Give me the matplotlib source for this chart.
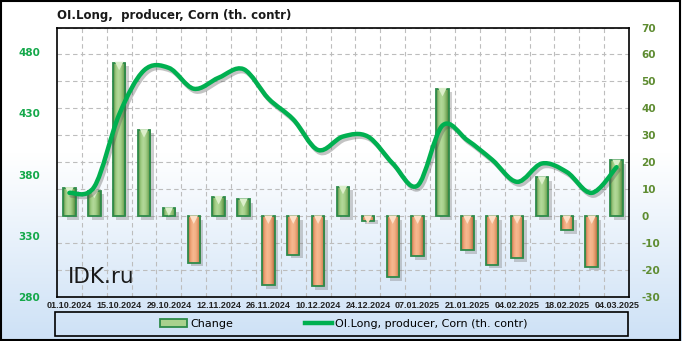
import numpy as np
import matplotlib
matplotlib.use("Agg")
import matplotlib.pyplot as plt
import matplotlib.patheffects as pe
from matplotlib.path import Path
from matplotlib.patches import PathPatch, Rectangle, Patch
from matplotlib.lines import Line2D
from matplotlib.colors import LinearSegmentedColormap
from matplotlib.transforms import ScaledTranslation

dates = ["01.10.2024", "08.10.2024", "15.10.2024", "22.10.2024", "29.10.2024",
         "05.11.2024", "12.11.2024", "19.11.2024", "26.11.2024", "03.12.2024",
         "10.12.2024", "17.12.2024", "24.12.2024", "31.12.2024", "07.01.2025",
         "14.01.2025", "21.01.2025", "28.01.2025", "04.02.2025", "11.02.2025",
         "18.02.2025", "25.02.2025", "04.03.2025"]
change = [10.5, 9.5, 57, 32, 3, -17.3, 7.2, 6.3, -25.7, -14.4, -26, 11, -1.7,
          -22.7, -14.8, 47.3, -12.6, -18.1, -15.7, 14.5, -5.2, -18.8, 20.7]
oi_long = [365, 370, 429, 465, 467, 450, 459, 466, 442, 425, 400, 411, 411,
           389, 371, 420, 408, 392, 374, 389, 382, 365, 386]

title = "OI.Long,  producer, Corn (th. contr)"
line_label = "OI.Long, producer, Corn (th. contr)"

GREEN = "#00b050"
OLIVE = "#5e8c31"
EDGE = "#2e8b4a"

plt.rcParams["axes.unicode_minus"] = False


def smooth_path(xs, ys):
    # catmull-rom -> cubic bezier, only for drawing the curve
    p = np.column_stack([xs, ys]).astype(float)
    ext = np.vstack([p[0], p, p[-1]])
    verts = [p[0]]
    codes = [Path.MOVETO]
    for i in range(len(p) - 1):
        p0, p1, p2, p3 = ext[i], ext[i + 1], ext[i + 2], ext[i + 3]
        verts += [p1 + (p2 - p0) / 6, p2 - (p3 - p1) / 6, p2]
        codes += [Path.CURVE4] * 3
    return Path(verts, codes)


fig = plt.figure(figsize=(6.82, 3.41), dpi=100)

# background gradient
bg = fig.add_axes([0, 0, 1, 1], zorder=-10)
bg_cmap = LinearSegmentedColormap.from_list(
    "bg", [(0, "white"), (0.45, "white"), (1, "#cde1f6")])
bg.imshow(np.linspace(0, 1, 256)[:, None], cmap=bg_cmap, aspect="auto",
          extent=[0, 1, 0, 1], origin="upper")
bg.set_axis_off()

ax = fig.add_axes([57 / 682, 1 - 297 / 341, 572 / 682, 269.5 / 341])
ax.set_facecolor("none")
ax2 = ax.twinx()
ax2.set_facecolor("none")

x = np.arange(len(dates))
pos_cmap = LinearSegmentedColormap.from_list(
    "pos", ["#4f7f3a", "#9cc97f", "#b3d99a", "#a6d08a", "#7fb062", "#4a7a36"])
neg_cmap = LinearSegmentedColormap.from_list(
    "neg", ["#a8683f", "#eea275", "#f6b990", "#f3b186", "#dc9262", "#9e6038"])
grad = np.linspace(0, 1, 64)[None, :]

bars = ax.bar(x, change, width=0.5, color=["#a9d18e" if v >= 0 else "#f4b183" for v in change],
              edgecolor="none", zorder=3,
              path_effects=[pe.SimplePatchShadow(offset=(2.5, -2.5), shadow_rgbFace="#777777", alpha=0.35),
                            pe.Normal()])
for b, v in zip(bars, change):
    x0, w = b.get_x(), b.get_width()
    y0, y1 = sorted([b.get_y(), b.get_y() + b.get_height()])
    im = ax.imshow(grad, cmap=pos_cmap if v >= 0 else neg_cmap, aspect="auto",
                   extent=[x0, x0 + w, y0, y1], zorder=4)
    im.set_clip_path(b)
ax.bar(x, change, width=0.5, fill=False, edgecolor=EDGE, linewidth=1.3, zorder=5)
# bevel highlight at the upper end of each bar
tops = [max(v, 0) for v in change]
off = ScaledTranslation(0, -3.5 / 100, fig.dpi_scale_trans)
ax.scatter(x, tops, marker="v", s=38, color=["#dcefcb" if v >= 0 else "#fde0c8" for v in change],
           edgecolor="none", zorder=6, transform=ax.transData + off)

ax.set_xlim(-0.5, len(dates) - 0.5)
ax.set_ylim(-30, 70)
ax.set_yticks(np.arange(-30, 71, 10))
ax.yaxis.tick_right()
ax.tick_params(axis="y", length=0, pad=9, labelsize=7.5, labelcolor=OLIVE)
for t in ax.get_yticklabels():
    t.set_fontweight("bold")

ax.set_xticks(x[::2])
ax.set_xticklabels(dates[::2], fontsize=6.5, fontweight="bold", color="#222222",
                   family="Liberation Sans")
ax.set_xticks(x[:-1] + 0.5, minor=True)
ax.tick_params(axis="x", which="both", length=0, pad=3)
ax.set_axisbelow(True)
ax.grid(which="minor", axis="x", color="#bdbdbd", linestyle=(0, (4, 3)), linewidth=0.8)
ax.grid(which="major", axis="y", color="#bdbdbd", linestyle=(0, (4, 3)), linewidth=0.8)
for s in ax.spines.values():
    s.set_color("black")
    s.set_linewidth(1.2)

# OI line on the left scale
line = PathPatch(smooth_path(x, oi_long), fill=False, edgecolor=GREEN, linewidth=3.2,
                 capstyle="round", joinstyle="round", zorder=7,
                 path_effects=[pe.SimpleLineShadow(offset=(1.5, -2), shadow_color="#555555", alpha=0.35),
                               pe.Normal()])
ax2.add_patch(line)
ax2.set_ylim(280, 500)
ax2.set_yticks(np.arange(280, 481, 50))
ax2.yaxis.tick_left()
ax2.tick_params(axis="y", length=0, pad=12, labelsize=7.5, labelcolor="#14a84a")
for t in ax2.get_yticklabels():
    t.set_fontweight("bold")
for s in ax2.spines.values():
    s.set_visible(False)

ax.text(11 / 572, 14 / 269.5, "IDK.ru", transform=ax.transAxes, fontsize=15.5,
        color="#1a1a1a", ha="left", va="baseline", zorder=8)

fig.text(57 / 682, 1 - 15 / 341, title, ha="left", va="center", fontsize=8.5,
         fontweight="bold", color="#1a1a1a")

# legend box
fig.patches.append(Rectangle((55 / 682, 1 - 336 / 341), 573 / 682, 24 / 341,
                             transform=fig.transFigure, fill=False, edgecolor="black",
                             linewidth=1.2))
handles = [Patch(facecolor="#a9d18e", edgecolor=EDGE, linewidth=1.3),
           Line2D([0], [0], color=GREEN, linewidth=3.2)]
fig.legend(handles, ["Change", line_label], loc="center", ncol=2,
           bbox_to_anchor=(344 / 682, 1 - 324 / 341), frameon=False, fontsize=8,
           handlelength=2.4, handleheight=0.8, handletextpad=0.3, columnspacing=6.5)

fig.patches.append(Rectangle((0.002, 0.003), 0.995, 0.993, transform=fig.transFigure,
                             fill=False, edgecolor="black", linewidth=1.5))

fig.savefig("out.png", dpi=100)
